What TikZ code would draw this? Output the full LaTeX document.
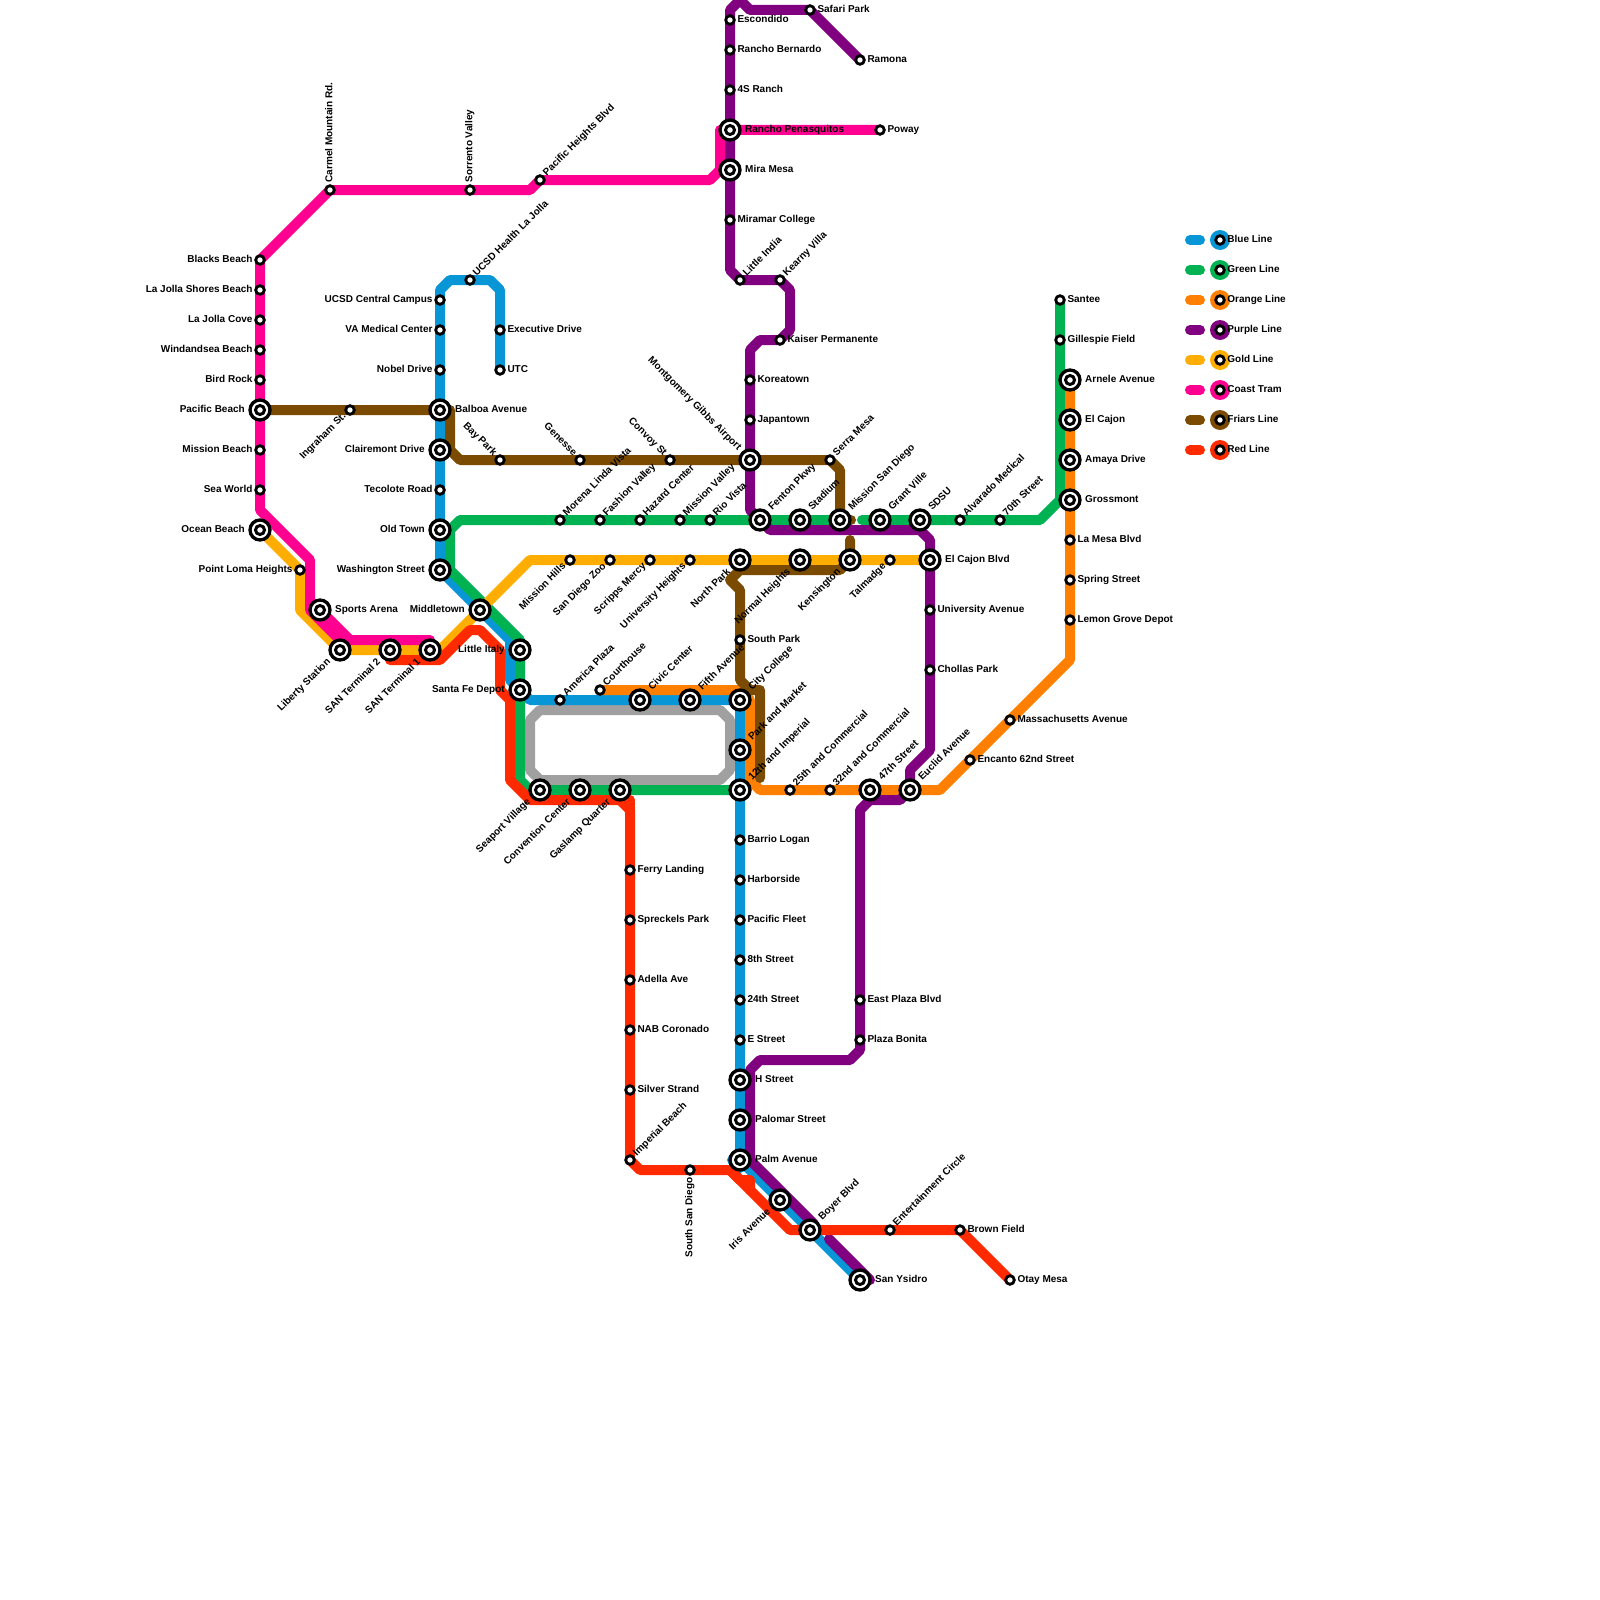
\documentclass[tikz,border=0pt]{standalone}
\usepackage{fontspec}
\setmainfont{Liberation Sans}
\usetikzlibrary{backgrounds}
\definecolor{lnblue}{HTML}{0896D7}
\definecolor{lngreen}{HTML}{00B251}
\definecolor{lnorange}{HTML}{FF8000}
\definecolor{lnpurple}{HTML}{800080}
\definecolor{lngold}{HTML}{FFAD00}
\definecolor{lntram}{HTML}{FF0090}
\definecolor{lnfriars}{HTML}{7A4B00}
\definecolor{lnred}{HTML}{FF2A00}
\definecolor{lngrey}{HTML}{A0A0A0}
\begin{document}
\begin{tikzpicture}[
  x=10pt, y=-10pt,
  lbl/.style={inner sep=0pt, text height=7.2pt, text depth=2.6pt, font=\fontsize{10}{12}\selectfont\bfseries},
  stn/.style={circle, draw=black, fill=white, line width=2.8pt, minimum size=8.6pt, inner sep=0pt, outer sep=3pt},
  xstn/.style={circle, draw=black, fill=white, line width=3.3pt, minimum size=20pt, inner sep=0pt, outer sep=5pt,
    path picture={\draw[line width=3pt] (path picture bounding box.center) circle (4.5pt);}},
  keydot/.style={circle, fill=#1, minimum size=20pt, inner sep=0pt,
    path picture={\draw[line width=2.8pt, fill=white] (path picture bounding box.center) circle (4.3pt);}},
  E/.style={label={[lbl,anchor=west]0:#1}},
  W/.style={label={[lbl,anchor=east]180:#1}},
  NE/.style={label={[lbl,anchor=west,rotate=45]45:#1}},
  SW/.style={label={[lbl,anchor=east,rotate=45]225:#1}},
  NW/.style={label={[lbl,anchor=east,rotate=-45]135:#1}},
  N/.style={label={[lbl,anchor=west,rotate=90]90:#1}},
  S/.style={label={[lbl,anchor=east,rotate=90]270:#1}},
  keylbl/.style={label={[lbl,anchor=west,xshift=-3pt]0:#1}},
  metro/.style={line width=10pt, line cap=round, line join=round},
]
\useasboundingbox (0,0) rectangle (160,160);
% coast tram
\node[stn, E=Poway] (poway) at (88,13) {};
\node[stn, NE=Pacific Heights Blvd] (pacheights) at (54,18) {};
\node[stn, N=Sorrento Valley] (sorrento) at (47,19) {};
\node[stn, N=Carmel Mountain Rd.] (carmel) at (33,19) {};
\node[stn, W=Blacks Beach] (blacks) at (26,26) {};
\node[stn, W=La Jolla Shores Beach] (shores) at (26,29) {};
\node[stn, W=La Jolla Cove] (cove) at (26,32) {};
\node[stn, W=Windandsea Beach] (windandsea) at (26,35) {};
\node[stn, W=Bird Rock] (birdrock) at (26,38) {};
\node[xstn, W=Pacific Beach] (pacbeach) at (26,41) {};
\node[stn, W=Mission Beach] (missbeach) at (26,45) {};
\node[stn, W=Sea World] (seaworld) at (26,49) {};
\node[xstn, W=Ocean Beach] (oceanbeach) at (26,53) {};
\node[stn, W=Point Loma Heights] (ptloma) at (30,57) {};
\node[xstn, E=Sports Arena] (sports) at (32,61) {};
\node[xstn, SW=Liberty Station] (liberty) at (34,65) {};
\node[xstn, SW=SAN Terminal 2] (santwo) at (39,65) {};
\node[xstn, SW=SAN Terminal 1] (sanone) at (43,65) {};
% blue
\node[stn, E=UTC] (utc) at (50,37) {};
\node[stn, E=Executive Drive] (executive) at (50,33) {};
\node[stn, NE=UCSD Health La Jolla] (ucsdhealth) at (47,28) {};
\node[stn, W=UCSD Central Campus] (ucsdcentral) at (44,30) {};
\node[stn, W=VA Medical Center] (vamedical) at (44,33) {};
\node[stn, W=Nobel Drive] (nobel) at (44,37) {};
\node[xstn, E=Balboa Avenue] (balboa) at (44,41) {};
\node[xstn, W=Clairemont Drive] (clairemont) at (44,45) {};
\node[stn, W=Tecolote Road] (tecolote) at (44,49) {};
\node[xstn, W=Old Town] (oldtown) at (44,53) {};
\node[xstn, W=Washington Street] (washington) at (44,57) {};
\node[xstn, W=Middletown] (middletown) at (48,61) {};
\node[xstn, W=Little Italy] (littleitaly) at (52,65) {};
\node[xstn, W=Santa Fe Depot] (santafe) at (52,69) {};
\node[stn, NE=America Plaza] (america) at (56,70) {};
\node[xstn, NE=Civic Center] (civic) at (64,70) {};
\node[xstn, NE=Fifth Avenue] (fifth) at (69,70) {};
\node[xstn, NE=City College] (citycollege) at (74,70) {};
\node[xstn, NE=Park and Market] (parkmarket) at (74,75) {};
\node[xstn, NE=12th and Imperial] (imperial) at (74,79) {};
\node[stn, E=Barrio Logan] (barrio) at (74,84) {};
\node[stn, E=Harborside] (harborside) at (74,88) {};
\node[stn, E=Pacific Fleet] (pacfleet) at (74,92) {};
\node[stn, E=8th Street] (eighth) at (74,96) {};
\node[stn, E=24th Street] (twentyfour) at (74,100) {};
\node[stn, E=E Street] (estreet) at (74,104) {};
\node[xstn, E=H Street] (hstreet) at (74,108) {};
\node[xstn, E=Palomar Street] (palomar) at (74,112) {};
\node[xstn, E=Palm Avenue] (palm) at (74,116) {};
\node[xstn, SW=Iris Avenue] (iris) at (78,120) {};
\node[xstn, NE=Boyer Blvd] (boyer) at (81,123) {};
\node[xstn, E=San Ysidro] (ysidro) at (86,128) {};
% green
\node[stn, E=Santee] (santee) at (106,30) {};
\node[stn, E=Gillespie Field] (gillespie) at (106,34) {};
\node[stn, NE=70th Street] (seventieth) at (100,52) {};
\node[stn, NE=Alvarado Medical] (alvarado) at (96,52) {};
\node[xstn, NE=SDSU] (sdsu) at (92,52) {};
\node[xstn, NE=Grant Ville] (grantville) at (88,52) {};
\node[xstn, NE=Mission San Diego] (misssd) at (84,52) {};
\node[xstn, NE=Stadium] (stadium) at (80,52) {};
\node[xstn, NE=Fenton Pkwy] (fenton) at (76,52) {};
\node[stn, NE=Rio Vista] (riovista) at (71,52) {};
\node[stn, NE=Mission Valley] (missvalley) at (68,52) {};
\node[stn, NE=Hazard Center] (hazard) at (64,52) {};
\node[stn, NE=Fashion Valley] (fashion) at (60,52) {};
\node[stn, NE=Morena Linda Vista] (morena) at (56,52) {};
\node[xstn, SW=Seaport Village] (seaport) at (54,79) {};
\node[xstn, SW=Convention Center] (convention) at (58,79) {};
\node[xstn, SW=Gaslamp Quarter] (gaslamp) at (62,79) {};
% orange
\node[xstn, E=Arnele Avenue] (arnele) at (107,38) {};
\node[xstn, E=El Cajon] (elcajon) at (107,42) {};
\node[xstn, E=Amaya Drive] (amaya) at (107,46) {};
\node[xstn, E=Grossmont] (grossmont) at (107,50) {};
\node[stn, E=La Mesa Blvd] (lamesa) at (107,54) {};
\node[stn, E=Spring Street] (spring) at (107,58) {};
\node[stn, E=Lemon Grove Depot] (lemon) at (107,62) {};
\node[stn, E=Massachusetts Avenue] (mass) at (101,72) {};
\node[stn, E=Encanto 62nd Street] (encanto) at (97,76) {};
\node[xstn, NE=Euclid Avenue] (euclid) at (91,79) {};
\node[xstn, NE=47th Street] (fortyseven) at (87,79) {};
\node[stn, NE=32nd and Commercial] (thirtytwo) at (83,79) {};
\node[stn, NE=25th and Commercial] (twentyfive) at (79,79) {};
\node[stn, NE=Courthouse] (courthouse) at (60,69) {};
% purple
\node[stn, E=Ramona] (ramona) at (86,6) {};
\node[stn, E=Safari Park] (safari) at (81,1) {};
\node[stn, E=Escondido] (escondido) at (73,2) {};
\node[stn, E=Rancho Bernardo] (bernardo) at (73,5) {};
\node[stn, E=4S Ranch] (fours) at (73,9) {};
\node[xstn, E=Rancho Penasquitos] (penasquitos) at (73,13) {};
\node[xstn, E=Mira Mesa] (miramesa) at (73,17) {};
\node[stn, E=Miramar College] (miramar) at (73,22) {};
\node[stn, NE=Little India] (littleindia) at (74,28) {};
\node[stn, NE=Kearny Villa] (kearny) at (78,28) {};
\node[stn, E=Kaiser Permanente] (kaiser) at (78,34) {};
\node[stn, E=Koreatown] (koreatown) at (75,38) {};
\node[stn, E=Japantown] (japantown) at (75,42) {};
\node[xstn, NW=Montgomery Gibbs Airport] (airport) at (75,46) {};
\node[xstn, E=El Cajon Blvd] (cajonblvd) at (93,56) {};
\node[stn, E=University Avenue] (univave) at (93,61) {};
\node[stn, E=Chollas Park] (chollas) at (93,67) {};
\node[stn, E=East Plaza Blvd] (eastplaza) at (86,100) {};
\node[stn, E=Plaza Bonita] (bonita) at (86,104) {};
% gold
\node[stn, SW=Mission Hills] (misshills) at (57,56) {};
\node[stn, SW=San Diego Zoo] (zoo) at (61,56) {};
\node[stn, SW=Scripps Mercy] (scripps) at (65,56) {};
\node[stn, SW=University Heights] (univheights) at (69,56) {};
\node[xstn, SW=North Park] (northpark) at (74,56) {};
\node[xstn, SW=Normal Heights] (normal) at (80,56) {};
\node[xstn, SW=Kensington] (kensington) at (85,56) {};
\node[stn, SW=Talmadge] (talmadge) at (89,56) {};
% friars
\node[stn, SW=Ingraham St.] (ingraham) at (35,41) {};
\node[stn, NW=Bay Park] (baypark) at (50,46) {};
\node[stn, NW=Genesse] (genesse) at (58,46) {};
\node[stn, NW=Convoy St] (convoy) at (67,46) {};
\node[stn, NE=Serra Mesa] (serra) at (83,46) {};
\node[stn, E=South Park] (southpark) at (74,64) {};
% red
\node[stn, E=Ferry Landing] (ferry) at (63,87) {};
\node[stn, E=Spreckels Park] (spreckels) at (63,92) {};
\node[stn, E=Adella Ave] (adella) at (63,98) {};
\node[stn, E=NAB Coronado] (nab) at (63,103) {};
\node[stn, E=Silver Strand] (silver) at (63,109) {};
\node[stn, NE=Imperial Beach] (impbeach) at (63,116) {};
\node[stn, S=South San Diego] (southsd) at (69,117) {};
\node[stn, NE=Entertainment Circle] (entertain) at (89,123) {};
\node[stn, E=Brown Field] (brownfield) at (96,123) {};
\node[stn, E=Otay Mesa] (otay) at (101,128) {};
% key
\node[keydot=lnblue, keylbl=Blue Line] (kblue) at (122,24) {};
\node[keydot=lngreen, keylbl=Green Line] (kgreen) at (122,27) {};
\node[keydot=lnorange, keylbl=Orange Line] (korange) at (122,30) {};
\node[keydot=lnpurple, keylbl=Purple Line] (kpurple) at (122,33) {};
\node[keydot=lngold, keylbl=Gold Line] (kgold) at (122,36) {};
\node[keydot=lntram, keylbl=Coast Tram] (ktram) at (122,39) {};
\node[keydot=lnfriars, keylbl=Friars Line] (kfriars) at (122,42) {};
\node[keydot=lnred, keylbl=Red Line] (kred) at (122,45) {};
\begin{scope}[on background layer]
% loop
\draw[metro, lngrey] (53,72) -- (54,71) -- (72,71) -- (73,72) -- (73,77) -- (72,78) -- (54,78) -- (53,77) -- cycle;
\draw[metro, lnblue] (utc.center) -- (executive.center) -- (50,29) -- (49,28) -- (ucsdhealth.center) -- (45,28) -- (44,29) -- (ucsdcentral.center) -- (vamedical.center) -- (nobel.center) -- (balboa.center) -- (clairemont.center) -- (tecolote.center) -- (oldtown.center) -- (washington.center) -- (middletown.center) -- (51,64) -- (51,68) -- (53,70) -- (america.center) -- (civic.center) -- (fifth.center) -- (citycollege.center) -- (parkmarket.center) -- (imperial.center) -- (barrio.center) -- (harborside.center) -- (pacfleet.center) -- (eighth.center) -- (twentyfour.center) -- (estreet.center) -- (hstreet.center) -- (palomar.center) -- (palm.center) -- (iris.center) -- (boyer.center) -- (ysidro.center);
\draw[metro, lnblue] (73.2,116) -- (74,116.8);
\draw[metro, lngreen] (santee.center) -- (gillespie.center) -- (106,50) -- (104,52) -- (seventieth.center) -- (alvarado.center) -- (sdsu.center) -- (grantville.center) -- (86.2,52);
\draw[metro, lngreen] (misssd.center) -- (stadium.center) -- (fenton.center) -- (riovista.center) -- (missvalley.center) -- (hazard.center) -- (fashion.center) -- (morena.center) -- (46,52) -- (45,53) -- (45,57) -- (52,64) -- (littleitaly.center) -- (santafe.center) -- (52,78) -- (53,79) -- (seaport.center) -- (convention.center) -- (gaslamp.center) -- (imperial.center);
\draw[metro, lnorange] (arnele.center) -- (elcajon.center) -- (amaya.center) -- (grossmont.center) -- (lamesa.center) -- (spring.center) -- (lemon.center) -- (107,66) -- (mass.center) -- (encanto.center) -- (94,79) -- (euclid.center) -- (fortyseven.center) -- (thirtytwo.center) -- (twentyfive.center) -- (76,79) -- (75,78) -- (75,70) -- (74,69) -- (courthouse.center);
\draw[metro, lnpurple] (ramona.center) -- (safari.center) -- (75,1) -- (74,0) -- (73,1) -- (escondido.center) -- (bernardo.center) -- (fours.center) -- (penasquitos.center) -- (miramesa.center) -- (miramar.center) -- (73,27) -- (littleindia.center) -- (kearny.center) -- (79,29) -- (79,33) -- (kaiser.center) -- (76,34) -- (75,35) -- (koreatown.center) -- (japantown.center) -- (airport.center) -- (75,51) -- (77,53) -- (92,53) -- (93,54) -- (cajonblvd.center) -- (univave.center) -- (chollas.center) -- (93,75) -- (91,77) -- (euclid.center) -- (90,80) -- (87,80) -- (86,81) -- (eastplaza.center) -- (bonita.center) -- (86,105) -- (85,106) -- (76,106) -- (75,107) -- (75,116) -- (81.4,122.4);
\draw[metro, lnpurple] (82.9,123.9) -- (87,128);
\draw[metro, lngold] (oceanbeach.center) -- (ptloma.center) -- (30,61) -- (liberty.center) -- (santwo.center) -- (sanone.center) -- (44,65) -- (middletown.center) -- (53,56) -- (misshills.center) -- (zoo.center) -- (scripps.center) -- (univheights.center) -- (northpark.center) -- (normal.center) -- (kensington.center) -- (talmadge.center) -- (cajonblvd.center);
\draw[metro, lntram] (poway.center) -- (penasquitos.center) -- (72,13) -- (72,17) -- (71,18) -- (pacheights.center) -- (53,19) -- (sorrento.center) -- (carmel.center) -- (blacks.center) -- (shores.center) -- (cove.center) -- (windandsea.center) -- (birdrock.center) -- (pacbeach.center) -- (missbeach.center) -- (seaworld.center) -- (26,51) -- (31,56) -- (31,61) -- (34,64) -- (43,64);
\draw[metro, lntram] (sports.center) -- (35,64);
\draw[metro, lnfriars] (pacbeach.center) -- (ingraham.center) -- (balboa.center) -- (45,41) -- (45,45) -- (46,46) -- (baypark.center) -- (genesse.center) -- (convoy.center) -- (airport.center) -- (serra.center) -- (84,47) -- (misssd.center) -- (85.1,52);
\draw[metro, lnfriars] (85,54) -- (kensington.center) -- (84,57) -- (74,57) -- (73,58) -- (74,59) -- (southpark.center) -- (74,68) -- (75,69) -- (76,69) -- (76,77.8);
\draw[metro, lnred] (santwo.center |- 0,66) -- (44,66) -- (47,63) -- (48,63) -- (50,65) -- (50,69) -- (51,70) -- (51,78) -- (53,80) -- (62,80) -- (63,81) -- (ferry.center) -- (spreckels.center) -- (adella.center) -- (nab.center) -- (silver.center) -- (impbeach.center) -- (64,117) -- (southsd.center) -- (73,117) -- (79,123) -- (boyer.center) -- (entertain.center) -- (brownfield.center) -- (otay.center);
\draw[metro, lnred] (62,80) -- (63,80) -- (63,81);
\draw[metro, lnred] (73,117) -- (74,118) -- (75,118) -- (75,119);
% key chips
\foreach \kname/\kcol in {kblue/lnblue,kgreen/lngreen,korange/lnorange,kpurple/lnpurple,kgold/lngold,ktram/lntram,kfriars/lnfriars,kred/lnred}
  \draw[metro, \kcol] ([xshift=-30pt]\kname.center) -- ([xshift=-20pt]\kname.center);
\end{scope}
\end{tikzpicture}
\end{document}
